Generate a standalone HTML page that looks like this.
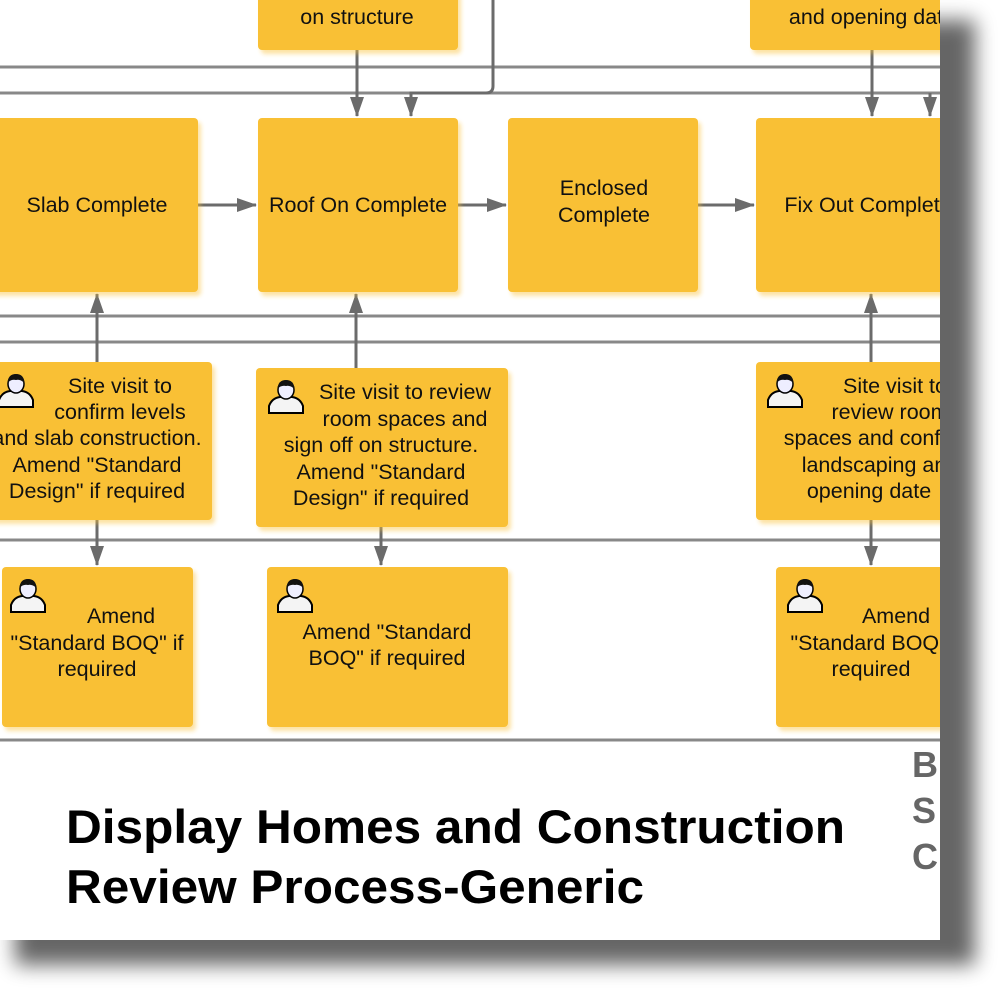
<!DOCTYPE html>
<html><head><style>
body{margin:0;width:999px;height:999px;background:#fff;overflow:hidden;font-family:"Liberation Sans",sans-serif;}
</style></head><body>
<svg width="999" height="999" xmlns="http://www.w3.org/2000/svg" font-family="Liberation Sans, sans-serif">
<defs>
<clipPath id="cp"><rect x="0" y="0" width="940" height="940"/></clipPath>
<filter id="ps" x="-10%" y="-10%" width="130%" height="130%"><feGaussianBlur stdDeviation="10"/></filter>
<filter id="bs" x="-10%" y="-10%" width="130%" height="130%"><feOffset dx="3" dy="4"/><feGaussianBlur stdDeviation="2"/><feComponentTransfer><feFuncA type="linear" slope="0.45"/></feComponentTransfer><feMerge><feMergeNode/><feMergeNode in="SourceGraphic"/></feMerge></filter>
<marker id="ah" markerWidth="20" markerHeight="14" refX="19" refY="7" orient="auto" markerUnits="userSpaceOnUse"><path d="M0,0 L20,7 L0,14 Z" fill="#6b6b6b"/></marker>
<symbol id="p" viewBox="0 0 40 40"><path d="M3,37 L3,30 Q6,22 14,21 L26,21 Q34,22 37,30 L37,37 Z" fill="#f4f4f4" stroke="#000" stroke-width="2"/><ellipse cx="20" cy="14" rx="8" ry="9" fill="#eef" stroke="#000" stroke-width="1.5"/><path d="M11.5,13 Q12,4 20,4 Q28,4 28.5,13 Q24,9 20,10 Q15,9 11.5,13Z" fill="#111"/></symbol>
</defs>
<rect x="15" y="20" width="960" height="945" fill="#000" opacity="0.6" filter="url(#ps)"/>
<rect x="0" y="0" width="940" height="940" fill="#fff"/>
<g clip-path="url(#cp)">
<g stroke="#888" stroke-width="3" fill="none">
<line x1="0" y1="67" x2="940" y2="67"/>
<line x1="0" y1="93" x2="940" y2="93"/>
<line x1="0" y1="316" x2="940" y2="316"/>
<line x1="0" y1="342" x2="940" y2="342"/>
<line x1="0" y1="540" x2="940" y2="540"/>
<line x1="0" y1="740" x2="940" y2="740"/>
</g>
<g stroke="#6b6b6b" stroke-width="3" fill="none">
<line x1="357" y1="50" x2="357" y2="116" marker-end="url(#ah)"/>
<path d="M493,0 L493,86 Q493,93 486,93 L411,93 L411,116" marker-end="url(#ah)"/>
<line x1="872" y1="50" x2="872" y2="116" marker-end="url(#ah)"/>
<line x1="930" y1="93" x2="930" y2="116" marker-end="url(#ah)"/>
<line x1="198" y1="205" x2="256" y2="205" marker-end="url(#ah)"/>
<line x1="458" y1="205" x2="506" y2="205" marker-end="url(#ah)"/>
<line x1="698" y1="205" x2="754" y2="205" marker-end="url(#ah)"/>
<line x1="97" y1="362" x2="97" y2="294" marker-end="url(#ah)"/>
<line x1="356" y1="368" x2="356" y2="294" marker-end="url(#ah)"/>
<line x1="871" y1="362" x2="871" y2="294" marker-end="url(#ah)"/>
<line x1="97" y1="520" x2="97" y2="565" marker-end="url(#ah)"/>
<line x1="381" y1="527" x2="381" y2="565" marker-end="url(#ah)"/>
<line x1="871" y1="520" x2="871" y2="565" marker-end="url(#ah)"/>
</g>
<g fill="#F9C034" filter="url(#bs)">
<rect x="258" y="-10" width="200" height="60" rx="4"/>
<rect x="750" y="-10" width="220" height="60" rx="4"/>
<rect x="-10" y="118" width="208" height="174" rx="4"/>
<rect x="258" y="118" width="200" height="174" rx="4"/>
<rect x="508" y="118" width="190" height="174" rx="4"/>
<rect x="756" y="118" width="220" height="174" rx="4"/>
<rect x="-10" y="362" width="222" height="158" rx="4"/>
<rect x="256" y="368" width="252" height="159" rx="4"/>
<rect x="756" y="362" width="220" height="158" rx="4"/>
<rect x="2" y="567" width="191" height="160" rx="4"/>
<rect x="267" y="567" width="241" height="160" rx="4"/>
<rect x="776" y="567" width="200" height="160" rx="4"/>
</g>
<use href="#p" x="-4" y="370" width="40" height="40"/>
<use href="#p" x="266" y="376" width="40" height="40"/>
<use href="#p" x="765" y="370" width="40" height="40"/>
<use href="#p" x="8" y="575" width="40" height="40"/>
<use href="#p" x="275" y="575" width="40" height="40"/>
<use href="#p" x="785" y="575" width="40" height="40"/>
<g font-size="21.5" fill="#111" text-anchor="middle">
<text x="357" y="24">on structure</text>
<text x="872" y="24">and opening date</text>
<text x="97" y="212">Slab Complete</text>
<text x="358" y="212">Roof On Complete</text>
<text x="604" y="195">Enclosed</text>
<text x="604" y="222">Complete</text>
<text x="868" y="212">Fix Out Complete</text>
<text x="120" y="393">Site visit to</text>
<text x="120" y="419">confirm levels</text>
<text x="97" y="445">and slab construction.</text>
<text x="97" y="472">Amend "Standard</text>
<text x="97" y="498">Design" if required</text>
<text x="405" y="399">Site visit to review</text>
<text x="405" y="426">room spaces and</text>
<text x="381" y="452">sign off on structure.</text>
<text x="381" y="479">Amend "Standard</text>
<text x="381" y="505">Design" if required</text>
<text x="895" y="393">Site visit to</text>
<text x="890" y="419">review room</text>
<text x="877" y="445">spaces and confirm</text>
<text x="880" y="472">landscaping and</text>
<text x="869" y="498">opening date</text>
<text x="896" y="623">Amend</text>
<text x="877" y="650">"Standard BOQ" if</text>
<text x="871" y="676">required</text>
<text x="121" y="623">Amend</text>
<text x="97" y="650">"Standard BOQ" if</text>
<text x="97" y="676">required</text>
<text x="387" y="639">Amend "Standard</text>
<text x="387" y="665">BOQ" if required</text>
</g>
<g font-size="47" font-weight="bold" fill="#000">
<text x="66" y="843" textLength="779" lengthAdjust="spacingAndGlyphs">Display Homes and Construction</text>
<text x="66" y="903" textLength="578" lengthAdjust="spacingAndGlyphs">Review Process-Generic</text>
</g>
<g font-size="36" font-weight="bold" fill="#666">
<text x="912" y="777">B</text>
<text x="912" y="823">S</text>
<text x="912" y="869">C</text>
</g>
</g>
</svg>
</body></html>
